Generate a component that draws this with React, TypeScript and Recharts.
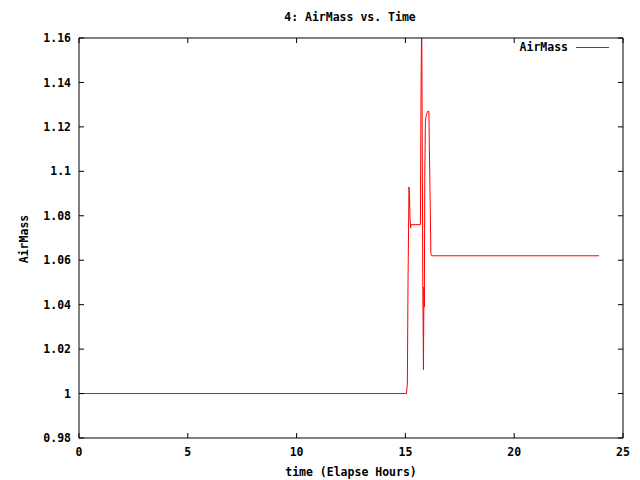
import { LineChart, Line, XAxis, YAxis } from 'recharts'

// elapsed hours and air mass
const hours = [
  0, 15.05, 15.07, 15.09, 15.12, 15.165, 15.19, 15.21, 15.24, 15.26,
  15.69, 15.7, 15.72, 15.75, 15.77, 15.8, 15.83, 15.85, 15.87, 15.89,
  15.92, 15.98, 16.02, 16.08, 16.1, 16.15, 16.17, 16.21, 23.9,
]
const airMass = [
  1.0, 1.0, 1.0025, 1.004, 1.049, 1.093, 1.088, 1.079, 1.0745, 1.076,
  1.076, 1.097, 1.139, 1.17, 1.123, 1.048, 1.0107, 1.048, 1.039, 1.097,
  1.123, 1.126, 1.127, 1.127, 1.111, 1.0786, 1.063, 1.062, 1.062,
]
const xTicks = [0, 5, 10, 15, 20, 25]
const yTicks = [0.98, 1, 1.02, 1.04, 1.06, 1.08, 1.1, 1.12, 1.14, 1.16]

const data = hours.map((t, i) => ({ t, v: airMass[i] }))

const font = '"DejaVu Sans Mono", monospace'
const tickStyle = { fill: '#000', fontSize: 11.5, fontFamily: font, fontWeight: 700 }
const fmtY = (v: number) => Number(v.toFixed(2)).toString()
const noLabel = () => <g />

export default function App() {
  return (
    <div style={{ position: 'absolute', left: 0, top: 0, width: 640, height: 480, background: '#fff' }}>
      <LineChart width={640} height={480} data={data} margin={{ top: 28, right: 7, bottom: 0, left: 0 }}>
        <XAxis
          xAxisId="b"
          dataKey="t"
          type="number"
          domain={[0, 25]}
          ticks={xTicks}
          height={42}
          tickSize={-5}
          tickMargin={15}
          tick={tickStyle}
          stroke="#000"
          label={{ value: 'time (Elapse Hours)', position: 'insideBottom', offset: 4, style: { ...tickStyle, textAnchor: 'middle' } }}
        />
        <XAxis xAxisId="t" orientation="top" dataKey="t" type="number" domain={[0, 25]} ticks={xTicks}
          height={10} tickSize={-5} tick={noLabel} stroke="#000" />
        <YAxis
          yAxisId="l"
          type="number"
          domain={[0.98, 1.16]}
          ticks={yTicks}
          allowDataOverflow
          width={79}
          tickSize={-5}
          tickMargin={13}
          tick={tickStyle}
          tickFormatter={fmtY}
          stroke="#000"
        />
        <YAxis yAxisId="r" orientation="right" type="number" domain={[0.98, 1.16]} ticks={yTicks}
          allowDataOverflow width={10} tickSize={-5} tick={noLabel} stroke="#000" />
        <Line
          xAxisId="b"
          yAxisId="l"
          dataKey="v"
          type="linear"
          stroke="#ff0000"
          strokeWidth={1}
          dot={false}
          isAnimationActive={false}
        />
      </LineChart>

      <div style={{ position: 'absolute', left: 0, width: 700, top: 10, textAlign: 'center', font: `700 11.5px ${font}` }}>
        4: AirMass vs. Time
      </div>
      <div style={{ position: 'absolute', left: 24, top: 239, font: `700 11.5px ${font}`, transform: 'translate(-50%, -50%) rotate(-90deg)', whiteSpace: 'nowrap' }}>
        AirMass
      </div>
      <div style={{ position: 'absolute', right: 72, top: 40, font: `700 11.5px ${font}` }}>AirMass</div>
      <div style={{ position: 'absolute', left: 576, top: 47, width: 33, height: 1, background: '#ff0000' }} />
    </div>
  )
}
